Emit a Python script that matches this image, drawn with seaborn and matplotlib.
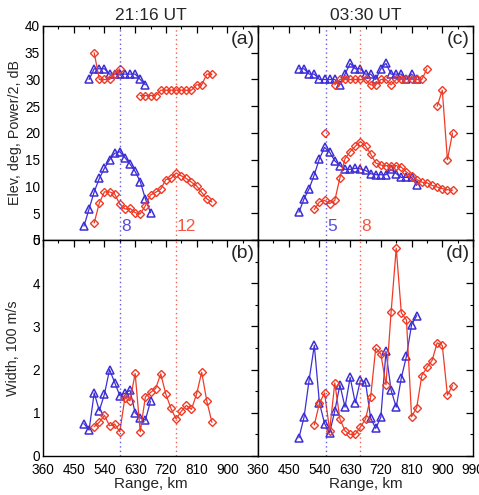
import numpy as np
import pandas as pd
import matplotlib
matplotlib.use("Agg")
import matplotlib.pyplot as plt
from matplotlib.ticker import MultipleLocator
import seaborn as sns

# ---------------- data ----------------
nan = np.nan
# panel (a): 21:16 UT elevation / power
a_blue_top_km = [495, 510, 525, 540, 555, 570, 585, 600, 615, 630, 645, 660]
a_blue_top = [30, 32, 32, 32, 31, 31, 31, 31, 31, 31, 30, 29]
a_blue_low_km = [480, 495, 510, 525, 540, 555, 570, 585, 600, 615, 630, 645, 660, 675]
a_blue_low = [2.6, 5.8, 9.0, 11.5, 13.4, 15.0, 16.2, 16.5, 15.4, 14.2, 12.8, 10.9, 7.7, 5.1]
a_red_top_km = [510, 525, 540, 555, 570, 585, 600, 615, 630, 645, 660, 675, 690,
                705, 720, 735, 750, 765, 780, 795, 810, 825, 840, 855]
a_red_top = [35, 30, 30, 30, 31, 32, nan, nan, nan, 27, 27, 27, 27,
             28, 28, 28, 28, 28, 28, 28, 29, 29, 31, 31]
a_red_low_km = [510, 525, 540, 555, 570, 585, 600, 615, 630, 645, 660, 675,
                690, 705, 720, 735, 750, 765, 780, 795, 810, 825, 840, 855]
a_red_low = [3.2, 6.9, 9.0, 9.0, 8.6, 6.7, 5.8, 5.9, 5.1, 4.9, 6.4, 8.4,
             8.9, 9.5, 11.3, 11.5, 12.5, 12.0, 11.5, 10.8, 10.1, 8.9, 7.7, 7.1]

# panel (b): 21:16 UT width
b_blue_km = a_blue_low_km
b_blue = [0.75, 0.6, 1.46, 1.05, 1.43, 2.0, 1.7, 1.4, 1.45, 1.52, 1.0, 0.88, 0.83, 1.27]
b_red_km = a_red_low_km
b_red = [0.68, 0.78, 0.94, 0.7, 0.74, 0.56, 1.35, 1.28, 1.91, 0.56, 1.37, 1.47,
         1.56, 1.9, 1.43, 1.1, 0.86, 1.03, 1.17, 1.08, 1.43, 1.94, 1.27, 0.78]

# panel (c): 03:30 UT elevation / power
c_blue_km = [480, 495, 510, 525, 540, 555, 570, 585, 600, 615, 630, 645,
             660, 675, 690, 705, 720, 735, 750, 765, 780, 795, 810, 825]
c_blue_top = [32, 32, 31, 31, 30, 30, 30, 30, 29, 31, 33, 32,
              32, 31, 31, 30, 32, 33, 31, 31, 31, 30, 31, 30]
c_blue_low = [5.2, 7.7, 9.6, 12.2, 15.2, 17.3, 16.4, 14.8, 13.9, 13.2, 13.2, 13.4,
              13.3, 13.0, 12.4, 12.2, 12.2, 12.2, 13.2, 12.4, 11.7, 11.7, 11.7, 10.2]
c_red_top_km = [555, 570, 585, 600, 615, 630, 645, 660, 675, 690, 705, 720, 735,
                750, 765, 780, 795, 810, 825, 840, 855, 870, 885, 900, 915, 930]
c_red_top = [20, nan, 29, 30, 30, 30, 30, 30, 30, 29, 29, 30, 30,
             29, 30, 30, 30, 30, 30, 30, 32, nan, 25, 28, 15, 20]
c_red_low_km = [525, 540, 555, 570, 585, 600, 615, 630, 645, 660, 675, 690, 705, 720,
                735, 750, 765, 780, 795, 810, 825, 840, 855, 870, 885, 900, 915, 930]
c_red_low = [5.7, 7.1, 7.4, 6.8, 7.4, 11.6, 15.2, 16.5, 17.5, 18.4, 17.6, 16.1, 14.4, 14.0,
             13.9, 13.8, 13.9, 13.6, 12.7, 12.0, 11.3, 10.8, 10.7, 10.2, 9.9, 9.6, 9.4, 9.3]

# panel (d): 03:30 UT width
d_blue_km = c_blue_km
d_blue = [0.42, 0.9, 1.77, 2.56, 1.23, 0.75, 0.54, 1.04, 1.65, 1.13, 1.82, 1.23,
          1.75, 1.71, 0.88, 0.64, 0.9, 2.42, 1.52, 1.13, 1.81, 2.31, 3.04, 3.25]
d_red_km = c_red_low_km
d_red = [0.72, 1.22, 1.46, 0.59, 1.69, 0.86, 0.58, 0.5, 0.5, 0.67, 0.85, 1.36, 2.5, 2.36,
         1.65, 3.33, 4.81, 3.31, 3.15, 0.91, 1.12, 1.86, 2.05, 2.21, 2.62, 2.56, 1.41, 1.63]

# reference ranges (dotted lines) and gate labels
left_title, right_title = "21:16 UT", "03:30 UT"
left_lines = [(585, "8"), (750, "12")]
right_lines = [(560, "5"), (660, "8")]
x_ticks = [360, 450, 540, 630, 720, 810, 900, 990]

BLUE = "#3d2ed6"
RED = "#ef3b26"

sns.set_theme(style="white")
plt.rcParams["font.family"] = ["Liberation Sans", "DejaVu Sans"]

fig = plt.figure(figsize=(4.79, 4.95), dpi=100)
L, M, R = 0.0898, 0.5386, 0.9875
B, Mid, T = 0.0788, 0.5152, 0.9475
ax_a = fig.add_axes([L, Mid, M - L, T - Mid])
ax_c = fig.add_axes([M, Mid, R - M, T - Mid])
ax_b = fig.add_axes([L, B, M - L, Mid - B])
ax_d = fig.add_axes([M, B, R - M, Mid - B])


def series(ax, km, vals, color, kind):
    df = pd.DataFrame({"km": km, "val": vals})
    df["seg"] = df["val"].isna().cumsum()
    df = df.dropna()
    if kind == "tri":
        mk = dict(marker="^", markersize=5.3, markeredgewidth=1.1)
    else:
        mk = dict(marker="D", markersize=3.6, markeredgewidth=1.0)
    sns.lineplot(data=df, x="km", y="val", units="seg", estimator=None, sort=False,
                 color=color, linewidth=0.9, markerfacecolor="none",
                 markeredgecolor=color, ax=ax, **mk)


series(ax_a, a_blue_top_km, a_blue_top, BLUE, "tri")
series(ax_a, a_blue_low_km, a_blue_low, BLUE, "tri")
series(ax_a, a_red_top_km, a_red_top, RED, "dia")
series(ax_a, a_red_low_km, a_red_low, RED, "dia")
series(ax_b, b_blue_km, b_blue, BLUE, "tri")
series(ax_b, b_red_km, b_red, RED, "dia")
series(ax_c, c_blue_km, c_blue_top, BLUE, "tri")
series(ax_c, c_blue_km, c_blue_low, BLUE, "tri")
series(ax_c, c_red_top_km, c_red_top, RED, "dia")
series(ax_c, c_red_low_km, c_red_low, RED, "dia")
series(ax_d, d_blue_km, d_blue, BLUE, "tri")
series(ax_d, d_red_km, d_red, RED, "dia")

for ax_top, ax_bot, lines in [(ax_a, ax_b, left_lines), (ax_c, ax_d, right_lines)]:
    for (xv, lab), col in zip(lines, [BLUE, RED]):
        for ax in (ax_top, ax_bot):
            ax.axvline(xv, color=col, linestyle=(0, (1, 2.2)), linewidth=1.0, alpha=0.8)
        ax_top.text(xv + 3, 1.2, lab, color=col, fontsize=12.5, ha="left", va="bottom",
                    alpha=0.85)

for ax, lab in [(ax_a, "(a)"), (ax_b, "(b)"), (ax_c, "(c)"), (ax_d, "(d)")]:
    ax.text(0.985, 0.975, lab, transform=ax.transAxes, ha="right", va="top", fontsize=14)

for ax in (ax_a, ax_b, ax_c, ax_d):
    ax.set_xlim(360, 990)
    ax.set_xticks(x_ticks)
    ax.xaxis.set_minor_locator(MultipleLocator(45))
    ax.tick_params(which="both", direction="in", top=True, right=True,
                   labelsize=9.8, colors="black")
    ax.tick_params(axis="x", pad=5)
    ax.tick_params(axis="y", pad=2)
    ax.tick_params(which="major", length=5, width=0.9)
    ax.tick_params(which="minor", length=2.5, width=0.8)
    for s in ax.spines.values():
        s.set_visible(True)
        s.set_color("black")
        s.set_linewidth(1.0)
    ax.set_xlabel("")
    ax.set_ylabel("")
    ax.grid(False)

for ax in (ax_a, ax_c):
    ax.set_ylim(0, 40)
    ax.yaxis.set_major_locator(MultipleLocator(5))
    ax.set_xticklabels([])
for ax in (ax_b, ax_d):
    ax.set_ylim(0, 5)
    ax.yaxis.set_major_locator(MultipleLocator(1))
    ax.yaxis.set_minor_locator(MultipleLocator(0.5))
    ax.set_xlabel("Range, km", fontsize=11, labelpad=0)
for ax in (ax_c, ax_d):
    ax.set_yticklabels([])

ax_b.set_xticklabels([str(v) for v in x_ticks[:-1]] + [""])
ax_d.set_xticklabels([str(v) for v in x_ticks])

ax_a.set_ylabel("Elev, deg, Power/2, dB", fontsize=10.3, labelpad=2)
ax_b.set_ylabel("Width, 100 m/s", fontsize=10.3, labelpad=9)
ax_a.set_title(left_title, fontsize=12.5, pad=4)
ax_c.set_title(right_title, fontsize=12.5, pad=4)

fig.savefig("out.png", dpi=100)
